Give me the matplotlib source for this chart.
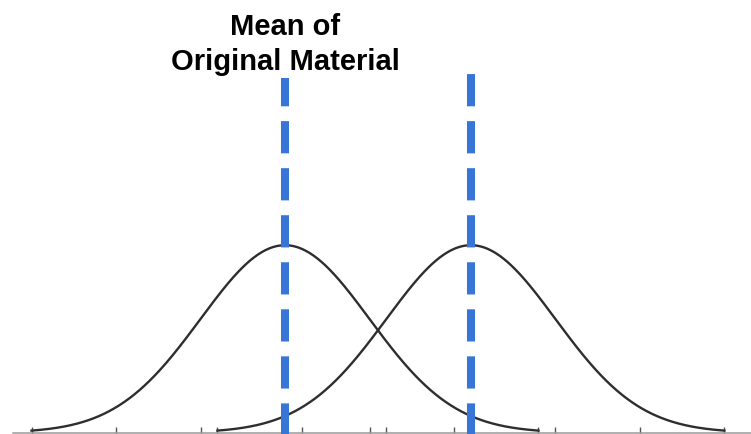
import numpy as np
import matplotlib.pyplot as plt

# two normal curves, in units of one standard deviation
mean_orig = 0.0
mean_new = 2.2
sigma = 1.0
tick_steps = [-3, -2, -1, 0, 1, 2, 3]  # sigma marks around each mean

label_text = "Mean of\nOriginal Material"

# heights of the dashed mean lines (density units)
line_top_orig = 0.755
line_top_new = 0.778

curve_col = '#2e2e2e'
mean_col = '#3776d6'


def normal_pdf(x, mu, s):
    return np.exp(-0.5 * ((x - mu) / s) ** 2) / (s * np.sqrt(2 * np.pi))


fig = plt.figure(figsize=(7.51, 4.35), dpi=100)
ax = fig.add_axes([0, 0, 1, 1])
ax.set_xlim(-3.373, 5.515)
ax.set_ylim(-0.0028, 0.9228)

for mu in (mean_orig, mean_new):
    xs = np.linspace(mu - 3.0 * sigma, mu + 3.0 * sigma, 400)
    ax.plot(xs, normal_pdf(xs, mu, sigma), color=curve_col, lw=1.7, zorder=2)

# baseline with small sigma ticks
for sp in ['left', 'right', 'top']:
    ax.spines[sp].set_visible(False)
ax.spines['bottom'].set_position(('data', 0))
ax.spines['bottom'].set_bounds(mean_orig - 3.22 * sigma, ax.get_xlim()[1])
ax.spines['bottom'].set_color('#9a9a9a')
ax.spines['bottom'].set_linewidth(1.1)
ticks = [mean_orig + k * sigma for k in tick_steps] + \
        [mean_new + k * sigma for k in tick_steps]
ax.set_xticks(ticks)
ax.set_xticklabels([])
ax.tick_params(axis='x', direction='in', length=4.5, width=1.0, color='#555555')
ax.set_yticks([])

# dashed mean lines, drawn upward from the baseline
ybot = ax.get_ylim()[0]
dash = (0.2, (4.0, 1.84))
ax.plot([mean_orig, mean_orig], [ybot, line_top_orig], color=mean_col,
        lw=5.8, linestyle=dash, zorder=3)
ax.plot([mean_new, mean_new], [ybot, line_top_new], color=mean_col,
        lw=5.8, linestyle=dash, zorder=3)

ax.text(mean_orig, 0.7738, label_text, ha='center', va='baseline',
        fontsize=21, fontweight='bold', family='Liberation Sans',
        linespacing=1.3, color='black')

fig.savefig('out.png', dpi=100)
